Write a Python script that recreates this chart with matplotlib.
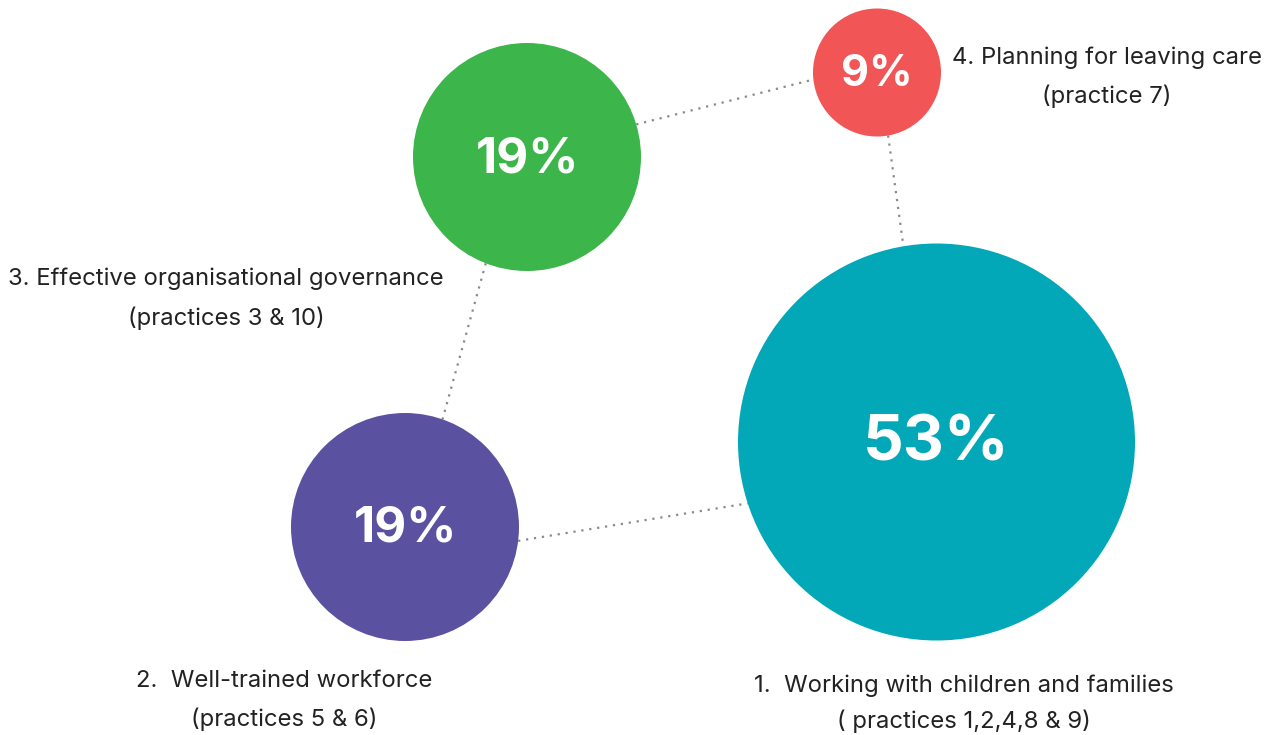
import numpy as np
import matplotlib
matplotlib.use("Agg")
import matplotlib.pyplot as plt
from matplotlib.patches import Circle

# ---- data ----
shares = ["53%", "19%", "19%", "9%"]
names = ["1.  Working with children and families",
         "2.  Well-trained workforce",
         "3. Effective organisational governance",
         "4. Planning for leaving care"]
subs = ["( practices 1,2,4,8 & 9)",
        "(practices 5 & 6)",
        "(practices 3 & 10)",
        "(practice 7)"]
colors = ["#02A8B8", "#5A52A0", "#3CB54B", "#F15555"]

# layout (pixel-like coordinates)
cx = [936.5, 405, 527, 877]
cy = [442, 527, 157, 72.5]
radius = [198.5, 114, 114, 64]
pct_size = [46, 35.5, 35.5, 31]
label_x = [964, 284, 226, 1107]
label_y = [686, 681, 279, 58]
line_gap = [35, 38, 39, 38]

# connectors: (from node, angle deg, to node, angle deg), y downward
links = [(1, 7.0, 0, 162.0),
         (2, -16.6, 3, 173.7),
         (2, 111.2, 1, -70.8),
         (3, 80.0, 0, 260.4)]

W, H = 1273, 735
fig = plt.figure(figsize=(W / 100, H / 100), dpi=100)
ax = fig.add_axes([0, 0, 1, 1])
ax.set_xlim(0, W)
ax.set_ylim(H, 0)
ax.set_aspect("equal")
ax.axis("off")

for a, aa, b, ba in links:
    x0 = cx[a] + radius[a] * np.cos(np.radians(aa))
    y0 = cy[a] + radius[a] * np.sin(np.radians(aa))
    x1 = cx[b] + radius[b] * np.cos(np.radians(ba))
    y1 = cy[b] + radius[b] * np.sin(np.radians(ba))
    ax.plot([x0, x1], [y0, y1], color="#8a8a8a", lw=1.6,
            linestyle=(0, (1, 2.6)), zorder=1, solid_capstyle="butt")

for i in range(len(shares)):
    ax.add_patch(Circle((cx[i], cy[i]), radius[i], facecolor=colors[i],
                        edgecolor="none", zorder=2))
    ax.text(cx[i], cy[i] + 2, shares[i], color="white", fontsize=pct_size[i],
            fontweight="bold", family="Inter", ha="center", va="center",
            zorder=3)
    ax.text(label_x[i], label_y[i], names[i], color="#222222", fontsize=17.2,
            family="Inter", ha="center", va="center", zorder=3)
    ax.text(label_x[i], label_y[i] + line_gap[i], subs[i], color="#222222",
            fontsize=17.2, family="Inter", ha="center", va="center", zorder=3)

fig.savefig("out.png", dpi=100, facecolor="white")
